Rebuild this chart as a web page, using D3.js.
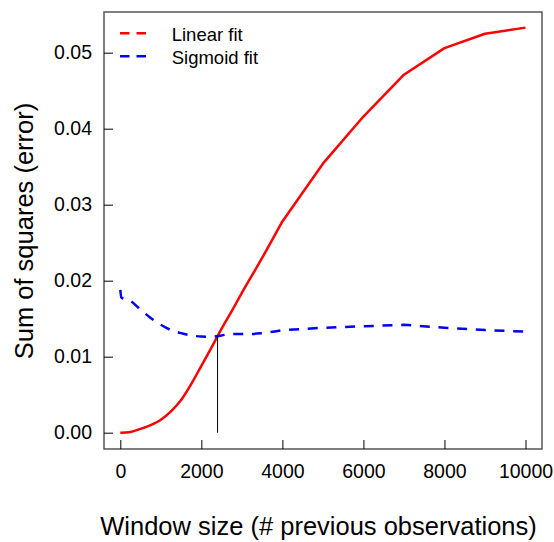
<!DOCTYPE html>
<html>
<head>
<meta charset="utf-8">
<script src="https://cdn.jsdelivr.net/npm/d3@7"></script>
<style>
  html, body { margin: 0; padding: 0; background: #fff; }
  svg { display: block; font-family: "Liberation Sans", Arial, Helvetica, sans-serif; }
  .tick text { fill: #000; }
</style>
</head>
<body>
<div id="chart"></div>
<script>
// window sizes (# previous observations)
const windowSizes = [0, 250, 500, 750, 1000, 1250, 1500, 1750, 2000, 2250, 2500,
  2750, 3000, 3250, 3500, 4000, 5000, 6000, 7000, 8000, 9000, 10000];

// sum of squares, linear fit
const linearErr = [0.0000, 0.0001, 0.0005, 0.0010, 0.0017, 0.0028, 0.0043, 0.0064,
  0.0088, 0.0112, 0.0137, 0.0160, 0.0184, 0.0207, 0.0230, 0.0278, 0.0354, 0.0416,
  0.0471, 0.0506, 0.0525, 0.0533];

// sigmoid fit starts with a tiny hook at 0
const sigmoidX = [0, 25, 250, 500, 750, 1000, 1250, 1500, 1750, 2000, 2250, 2500,
  2750, 3000, 3250, 3500, 4000, 5000, 6000, 7000, 8000, 9000, 10000];
const sigmoidErr = [0.0188, 0.0178, 0.01735, 0.0162, 0.0151, 0.0142, 0.0135, 0.0131,
  0.0128, 0.01265, 0.01262, 0.0128, 0.0130, 0.0130, 0.0130, 0.0131, 0.0135, 0.0138,
  0.0140, 0.0142, 0.0138, 0.0135, 0.0133];

// where the two curves cross
const crossing = { x: 2400, y: 0.0127 };

// below this the fits were sampled finely (smooth), above it every 1000
const smoothUntil = 4000;

const xTicks = [0, 2000, 4000, 6000, 8000, 10000];
const yTicks = [0, 0.01, 0.02, 0.03, 0.04, 0.05];

const legendLabels = ['Linear fit', 'Sigmoid fit'];
const legendColors = ['#ff0000', '#0000ff'];

const W = 554, H = 542;
const box = { left: 104, right: 542, top: 12, bottom: 449 };

const svg = d3.select('#chart').append('svg')
  .attr('width', W).attr('height', H);

const x = d3.scaleLinear().domain([0, 10000]).range([120.3, 525.5]);
const y = d3.scaleLinear().domain([0, 0.05]).range([432.7, 52.7]);

// plot frame
svg.append('rect')
  .attr('x', box.left).attr('y', box.top)
  .attr('width', box.right - box.left).attr('height', box.bottom - box.top)
  .attr('fill', 'none').attr('stroke', '#555').attr('stroke-width', 1.5);

// axes, ticks pointing inward
const yAxis = svg.append('g')
  .attr('transform', `translate(${box.left},0)`)
  .call(d3.axisLeft(y).tickValues(yTicks).tickFormat(d3.format('.2f'))
    .tickSizeInner(-9).tickSizeOuter(0).tickPadding(12));
const xAxis = svg.append('g')
  .attr('transform', `translate(0,${box.bottom})`)
  .call(d3.axisBottom(x).tickValues(xTicks).tickFormat(d3.format('d'))
    .tickSizeInner(-9).tickSizeOuter(0).tickPadding(15.5));

[yAxis, xAxis].forEach(g => {
  g.select('.domain').remove();
  g.selectAll('.tick line').attr('stroke', '#000');
  g.selectAll('.tick text').attr('font-size', 19.5).attr('font-family', null);
});

// axis labels
svg.append('text')
  .attr('x', 318.5).attr('y', 535)
  .attr('text-anchor', 'middle')
  .attr('font-size', 25.5)
  .text('Window size (# previous observations)');

svg.append('text')
  .attr('transform', 'translate(33,231) rotate(-90)')
  .attr('text-anchor', 'middle')
  .attr('font-size', 25.5)
  .text('Sum of squares (error)');

// curves: smooth through the dense part, straight segments after
const smoothLine = d3.line().x(d => x(d[0])).y(d => y(d[1])).curve(d3.curveMonotoneX);
const straightLine = d3.line().x(d => x(d[0])).y(d => y(d[1]));
function curvePath(pts) {
  const head = pts.filter(d => d[0] <= smoothUntil);
  const tail = pts.filter(d => d[0] >= smoothUntil);
  return smoothLine(head) + straightLine(tail).replace(/^M/, 'L');
}

svg.append('path')
  .attr('d', curvePath(d3.zip(windowSizes, linearErr)))
  .attr('fill', 'none')
  .attr('stroke', legendColors[0])
  .attr('stroke-width', 2.5)
  .attr('stroke-linejoin', 'round');

svg.append('path')
  .attr('d', curvePath(d3.zip(sigmoidX, sigmoidErr)))
  .attr('fill', 'none')
  .attr('stroke', legendColors[1])
  .attr('stroke-width', 2.5)
  .attr('stroke-dasharray', '10,8.7');

// vertical marker at the crossing point
svg.append('line')
  .attr('x1', x(crossing.x)).attr('x2', x(crossing.x))
  .attr('y1', y(0)).attr('y2', y(crossing.y))
  .attr('stroke', '#000').attr('stroke-width', 1);

// legend
const legend = svg.append('g').attr('transform', 'translate(120,33.3)');
legendLabels.forEach((lab, i) => {
  const g = legend.append('g').attr('transform', `translate(0,${i * 23})`);
  g.append('line')
    .attr('x1', 0).attr('x2', 30).attr('y1', 0).attr('y2', 0)
    .attr('stroke', legendColors[i]).attr('stroke-width', 2.5)
    .attr('stroke-dasharray', '9.5,7');
  g.append('text')
    .attr('x', 51.7).attr('y', 7.2)
    .attr('font-size', 18.5)
    .text(lab);
});
</script>
</body>
</html>
